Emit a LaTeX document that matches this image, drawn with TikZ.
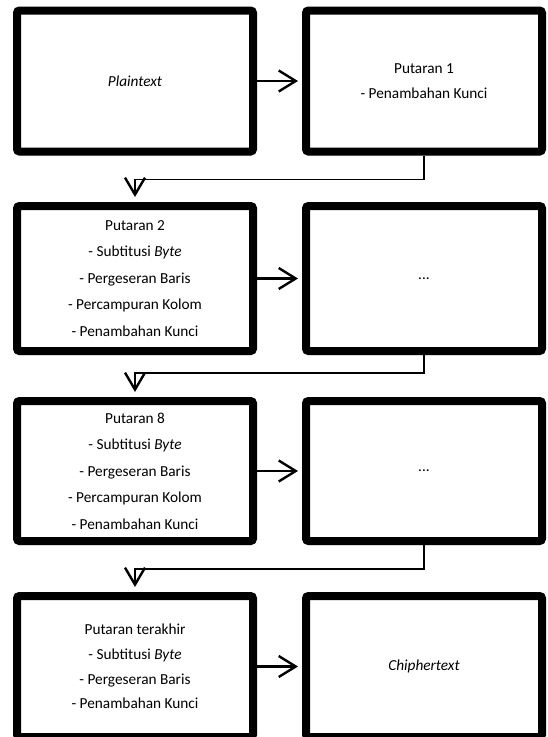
\documentclass[tikz,border=0pt]{standalone}
\usepackage{fontspec}
\setmainfont{Carlito}
\usetikzlibrary{arrows.meta,shadows.blur}
\begin{document}
\begin{tikzpicture}[x=1pt,y=-1pt,
  blok/.style={draw=black, line width=8pt, fill=white, rounded corners=2.5pt,
    minimum width=236pt, align=center, inner sep=0pt,
    font=\fontsize{15.3}{24.8}\selectfont,
    blur shadow={shadow xshift=0pt, shadow yshift=-2pt, shadow opacity=35, shadow blur radius=3pt}},
  tall/.style={font=\fontsize{15.3}{26.5}\selectfont},
  harrow/.style={line width=2.6pt, -{Straight Barb[length=17pt,width=21pt,line width=2.4pt]}, shorten >=4pt},
  elbow/.style={line width=1.6pt, -{Straight Barb[length=17pt,width=20pt,line width=2.4pt]}, shorten >=5pt}
]
\useasboundingbox (0,0) rectangle (547,737);
% row 1: 6..155
\node[blok, minimum height=141pt] (p) at (135,81) {\itshape Plaintext};
\node[blok, minimum height=141pt] (r1) at (424,81) {Putaran 1\\- Penambahan Kunci};
% row 2: 202..355
\node[blok, tall, minimum height=145pt] (r2) at (135,278.5) {Putaran 2\\- Subtitusi \textit{Byte}\\- Pergeseran Baris\\- Percampuran Kolom\\- Penambahan Kunci};
\node[blok, minimum height=145pt] (d1) at (424,278.5) {...};
% row 3: 397..545
\node[blok, tall, minimum height=140pt] (r8) at (135,471) {Putaran 8\\- Subtitusi \textit{Byte}\\- Pergeseran Baris\\- Percampuran Kolom\\- Penambahan Kunci};
\node[blok, minimum height=140pt] (d2) at (424,471) {...};
% row 4: 592..741
\node[blok, minimum height=141pt] (rl) at (135,666.5) {Putaran terakhir\\- Subtitusi \textit{Byte}\\- Pergeseran Baris\\- Penambahan Kunci};
\node[blok, minimum height=141pt] (c) at (424,666.5) {\itshape Chiphertext};
% arrows
\draw[harrow] (p) -- (r1);
\draw[harrow] (r2) -- (d1);
\draw[harrow] (r8) -- (d2);
\draw[harrow] (rl) -- (c);
\draw[elbow] (r1.south) -- ++(0,24) -| (r2.north);
\draw[elbow] (d1.south) -- ++(0,18) -| (r8.north);
\draw[elbow] (d2.south) -- ++(0,24) -| (rl.north);
\end{tikzpicture}
\end{document}
